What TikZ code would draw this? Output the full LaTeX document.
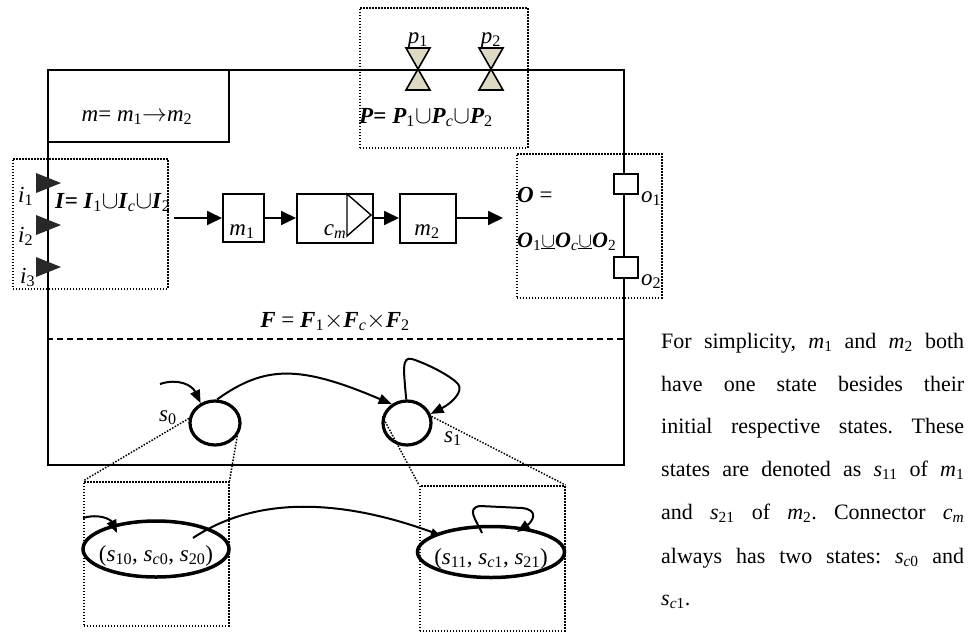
\documentclass[tikz,border=0pt]{standalone}
\usepackage{fontspec}
\setmainfont{Liberation Serif}
\usetikzlibrary{arrows.meta,shapes.geometric}
\definecolor{valvefill}{RGB}{221,217,195}
\definecolor{intrifill}{RGB}{40,40,40}
\newcommand{\myv}[2]{\textit{#1}\textsubscript{#2}}
\newcommand{\mybi}[1]{\textbf{\textit{#1}}}
\frenchspacing
\begin{document}
\begin{tikzpicture}[x=1pt,y=-1pt,
  lbl/.style={inner sep=0pt, font=\fontsize{23}{27}\selectfont},
  para/.style={inner sep=0pt, anchor=base west, font=\fontsize{22}{26}\selectfont},
  dotbox/.style={draw, line width=1.5pt, dash pattern=on 1.5pt off 1.5pt, rectangle, inner sep=0pt, anchor=north west},
  dotline/.style={line width=1.5pt, dash pattern=on 1.5pt off 1.5pt},
  solidbox/.style={draw, line width=1.6pt, rectangle, inner sep=0pt, anchor=north west},
  chainarr/.style={line width=1.8pt, -{Triangle[length=15pt,width=14pt]}},
  starr/.style={line width=2pt, -{Triangle[length=13pt,width=10pt]}},
  smallarr/.style={line width=2pt, -{Triangle[length=9pt,width=7pt]}},
  state/.style={draw, ellipse, line width=3.2pt, inner sep=0pt},
  bigstate/.style={draw, ellipse, line width=3.5pt, inner sep=0pt},
  valve/.style={fill=valvefill, draw=black, line width=1.6pt, line join=miter},
  intri/.style={fill=intrifill},
]
\useasboundingbox (0,0) rectangle (974,632);

% dotted boxes
\node[dotbox, minimum width=168, minimum height=140] (pbox) at (359,7) {};
\node[dotbox, minimum width=155, minimum height=130] (ibox) at (12,158) {};
\node[dotbox, minimum width=145, minimum height=144] (obox) at (516,153) {};
\node[dotbox, minimum width=145, minimum height=144] (lb0) at (83,481) {};
\node[dotbox, minimum width=145, minimum height=145] (lb1) at (419,485) {};

% main system box
\node[solidbox, minimum width=576, minimum height=395] (sys) at (47,69) {};
\node[solidbox, minimum width=181, minimum height=72] (mbox) at (47,69) {};
\node[lbl, anchor=base] (mlab) at (137,121) {\textit{m}= \myv{m}{1}$\rightarrow$\myv{m}{2}};

% valves
\foreach \x/\n in {418/1,491/2} {
  \draw[valve] (\x-12,48) -- (\x+12,48) -- (\x-12,90) -- (\x+12,90) -- cycle;
  \node[lbl, anchor=base] (p\n) at (\x,43) {\myv{p}{\n}};
}
\node[lbl, anchor=base west] (pf) at (359,123) {\mybi{P}\textbf{=} \mybi{P}\textsubscript{1}$\cup$\mybi{P}\textsubscript{\textit{c}}$\cup$\mybi{P}\textsubscript{2}};

% inputs
\foreach \y in {183,225,267} {
  \fill[intri] (36,\y-10) -- (36,\y+10) -- (61,\y) -- cycle;
}
\node[lbl, anchor=base west] (i1) at (18,202) {\myv{i}{1}};
\node[lbl, anchor=base west] (i2) at (18,242) {\myv{i}{2}};
\node[lbl, anchor=base west] (i3) at (20,283) {\myv{i}{3}};
\node[lbl, anchor=base west] (if) at (55,208) {\mybi{I}\textbf{=} \mybi{I}\textsubscript{1}$\cup$\mybi{I}\textsubscript{\textit{c}}$\cup$\mybi{I}\textsubscript{2}};

% chain
\coordinate (cin) at (174,218);
\coordinate (cout) at (503,218);
\node[solidbox, minimum width=41, minimum height=48] (m1) at (222,193) {};
\node[solidbox, minimum width=76, minimum height=49] (cm) at (296,193) {};
\node[solidbox, minimum width=56, minimum height=49] (m2) at (399,193) {};
\draw[line width=1.4pt] (347,194) -- (347,236) -- (371,215) -- cycle;
\draw[chainarr] (cin) -- (cin -| m1.west);
\draw[chainarr] (cin -| m1.east) -- (cin -| cm.west);
\draw[chainarr] (cin -| cm.east) -- (cin -| m2.west);
\draw[chainarr] (cin -| m2.east) -- (cout);
\node[lbl, anchor=base] (m1l) at (242,235) {\myv{m}{1}};
\node[lbl, anchor=base] (cml) at (335,235) {\myv{c}{\textit{m}}};
\node[lbl, anchor=base] (m2l) at (427,235) {\myv{m}{2}};

% outputs
\node[solidbox, fill=white, line width=2pt, minimum width=24, minimum height=20] (o1) at (613,173) {};
\node[solidbox, fill=white, line width=2pt, minimum width=24, minimum height=21] (o2) at (613,256) {};
\node[lbl, anchor=base west] (o1l) at (641,202) {\myv{o}{1}};
\node[lbl, anchor=base west] (o2l) at (641,285) {\myv{o}{2}};
\node[lbl, anchor=base west] (of1) at (517,202) {\mybi{O} =};
\node[lbl, anchor=base west, font=\fontsize{22}{26}\selectfont] (of2) at (517,247) {\mybi{O}\textsubscript{1}\underline{$\cup$}\mybi{O}\textsubscript{\textit{c}}\underline{$\cup$}\mybi{O}\textsubscript{2}};

% behaviour part
\coordinate (dl) at (47,339);
\draw[line width=1.6pt, dash pattern=on 6pt off 4pt] (dl) -- (dl -| sys.east);
\node[lbl, anchor=base] (ff) at (335,327) {\mybi{F} = \mybi{F}\textsubscript{1}$\times$\mybi{F}\textsubscript{\textit{c}}$\times$\mybi{F}\textsubscript{2}};

\node[state, minimum width=50, minimum height=44] (s0) at (215,423) {};
\node[state, minimum width=48, minimum height=44] (s1) at (407,423) {};
\node[lbl, anchor=base west] (s0l) at (159,421) {\myv{s}{0}};
\node[lbl, anchor=base west] (s1l) at (444,442) {\myv{s}{1}};

\coordinate (ti) at (160,384);
\draw[starr] (ti) .. controls (178,378) and (192,385) .. (s0.126);
\draw[starr] (s0.85) .. controls (265,365) and (300,365) .. (s1.129);
\draw[starr] (s1.92) .. controls (404,372) and (401,356) .. (412,359) .. controls (425,363) and (450,375) .. (458,384) .. controls (464,391) and (452,403) .. (s1.21);

\draw[dotline] (s0.170) -- (lb0.north west);
\draw[dotline] (s0.-30) -- (lb0.north east);
\draw[dotline] (s1.165) -- (lb1.north west);
\draw[dotline] (s1.15) -- (lb1.north east);

% expanded states
\node[bigstate, minimum width=146, minimum height=56] (E0) at (156,549) {};
\node[bigstate, minimum width=147, minimum height=51] (E1) at (491,552) {};
\node[lbl, anchor=base] (E0l) at (156,561) {(\myv{s}{10}, \textit{s}\textsubscript{\textit{c}0}, \myv{s}{20})};
\node[lbl, anchor=base] (E1l) at (491,564) {(\myv{s}{11}, \textit{s}\textsubscript{\textit{c}1}, \myv{s}{21})};

\coordinate (li) at (83,518);
\draw[starr] (li) .. controls (100,513) and (111,520) .. ([shift={(-39,-16)}]E0.center);
\draw[smallarr] ([shift={(37,-11)}]E0.center) .. controls (250,500) and (330,495) .. ([shift={(-51,-17)}]E1.center);
\draw[starr] ([shift={(-9,-19)}]E1.center) .. controls (476,520) and (466,508) .. (480,506) -- (522,508) .. controls (540,510) and (532,522) .. ([shift={(26,-20)}]E1.center);

% text
\node[para] (t1) at (661,348) {\makebox[303pt][s]{For simplicity, \myv{m}{1} and \myv{m}{2} both}};
\node[para] (t2) at (661,391) {\makebox[303pt][s]{have one state besides their}};
\node[para] (t3) at (661,433) {\makebox[303pt][s]{initial respective states. These}};
\node[para] (t4) at (661,476) {\makebox[303pt][s]{states are denoted as \myv{s}{11} of \myv{m}{1}}};
\node[para] (t5) at (661,519) {\makebox[303pt][s]{and \myv{s}{21} of \myv{m}{2}. Connector \myv{c}{\textit{m}}}};
\node[para] (t6) at (661,563) {\makebox[303pt][s]{always has two states: \textit{s}\textsubscript{\textit{c}0} and}};
\node[para] (t7) at (661,605) {\textit{s}\textsubscript{\textit{c}1}.};
\end{tikzpicture}
\end{document}
